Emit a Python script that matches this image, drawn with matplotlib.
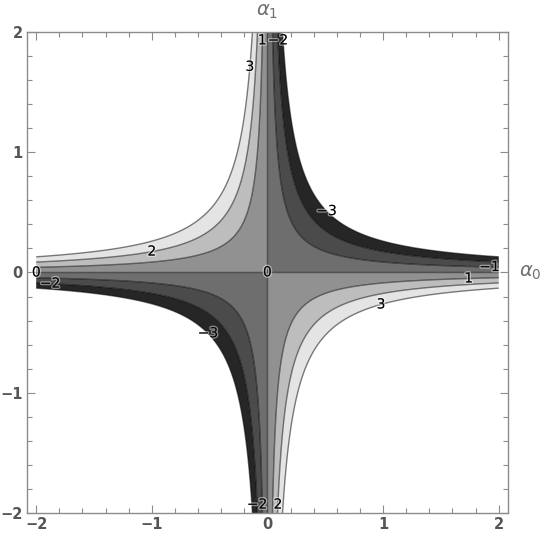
import numpy as np
import matplotlib
matplotlib.use("Agg")
import matplotlib.pyplot as plt
from matplotlib.ticker import MultipleLocator
import matplotlib.patheffects as pe

# ---- data -------------------------------------------------------------
levels = [-3, -2, -1, 0, 1, 2, 3]
band_colors = ['#262626', '#4b4b4b', '#6e6e6e', '#919191', '#bdbdbd', '#e4e4e4']
gain = 11.5                      # f(a0, a1) = -gain * a0 * a1
x_range = [-2.0, 2.0]
y_range = [-2.0, 2.0]
tick_values = [-2, -1, 0, 1, 2]
label_positions = [(-0.045, 1.93), (0.09, 1.93), (-0.15, 1.71), (0.5, 0.5),
                   (-1.0, 0.17), (-2.0, 0.0), (-1.88, -0.09), (0.0, 0.0),
                   (-0.51, -0.5), (0.98, -0.26), (1.74, -0.06), (1.92, 0.045),
                   (-0.087, -1.93), (0.087, -1.93)]
x_label = r'$\alpha_0$'
y_label = r'$\alpha_1$'

# ---- field ------------------------------------------------------------
a0 = np.linspace(x_range[0], x_range[1], 800)
a1 = np.linspace(y_range[0], y_range[1], 800)
A0, A1 = np.meshgrid(a0, a1)
F = -gain * A0 * A1

fig = plt.figure(figsize=(5.45, 5.42), dpi=100)
ax = fig.add_axes([0.0495, 0.0535, 0.8826, 0.8875])

ax.contourf(A0, A1, F, levels=levels, colors=band_colors, antialiased=True)
cs = ax.contour(A0, A1, F, levels=levels, colors=[(0, 0, 0, 0.5)],
                linewidths=1.0, linestyles='solid')


def fmt(v):
    return f"{v:.0f}".replace('-', '\u2212')


texts = ax.clabel(cs, manual=label_positions, inline=False,
                  fontsize=10, fmt=fmt, colors='black')
for t in texts:
    t.set_rotation(0)
    t.set_path_effects([pe.withStroke(linewidth=2, foreground=(1, 1, 1, 0.45))])

ax.set_xlim(-2.08, 2.08)
ax.set_ylim(-2.0, 2.0)

ax.set_xticks(tick_values)
ax.set_yticks(tick_values)
ax.xaxis.set_minor_locator(MultipleLocator(0.2))
ax.yaxis.set_minor_locator(MultipleLocator(0.2))
ax.tick_params(which='both', direction='in', top=True, right=True,
               color='#8c8c8c', width=0.8)
ax.tick_params(which='major', length=6, labelsize=10.5, labelcolor='#555555', pad=3)
ax.tick_params(which='minor', length=3.5)
for lab in ax.get_xticklabels() + ax.get_yticklabels():
    lab.set_fontweight('bold')

for s in ax.spines.values():
    s.set_color('#8c8c8c')
    s.set_linewidth(1.0)

ax.text(1.046, 0.0, x_label, transform=ax.get_yaxis_transform(),
        ha='center', va='center', fontsize=14, color='#707070')
ax.text(0.0, 1.042, y_label, transform=ax.get_xaxis_transform(),
        ha='center', va='center', fontsize=14, color='#707070')

fig.savefig('out.png', dpi=100)
